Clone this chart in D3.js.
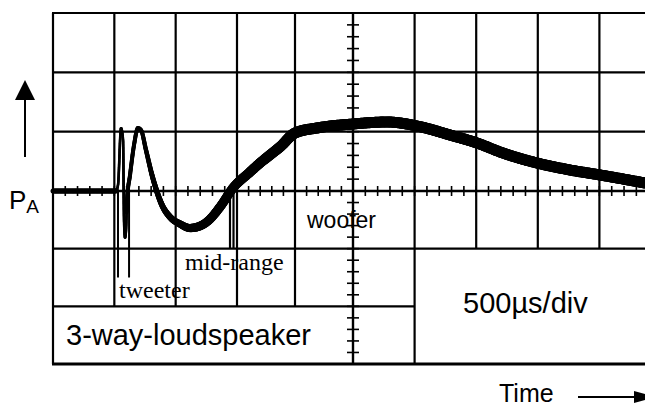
<!DOCTYPE html>
<html>
<head>
<meta charset="utf-8">
<script src="https://cdn.jsdelivr.net/npm/d3@7"></script>
<style>
  body { margin: 0; background: #fff; }
  svg { display: block; }
</style>
</head>
<body>
<svg id="scope" width="645" height="406"></svg>
<script>
// trace, in divisions (time: 0..10, amplitude: -3..3)
const timeDiv = [0, 1.027, 1.06, 1.109, 1.142, 1.158, 1.174, 1.191, 1.207, 1.256,
  1.321, 1.386, 1.435, 1.516, 1.614, 1.696, 1.777, 1.908, 2.071, 2.234,
  2.397, 2.527, 2.723, 2.935, 3.224, 3.397, 3.569, 3.741, 4.0, 4.379,
  5.0, 5.552, 6.039, 6.575, 7.013, 7.435, 7.987, 8.523, 9.01, 9.74];
const ampDiv = [0, 0, 0.101, 1.062, 0.86, -0.503, -0.815, -0.676, -0.156, 0.27,
  0.775, 1.062, 1.028, 0.691, 0.27, -0.017, -0.243, -0.451, -0.572, -0.642,
  -0.607, -0.52, -0.277, 0.051, 0.32, 0.472, 0.607, 0.742, 0.978, 1.062,
  1.129, 1.163, 1.096, 0.944, 0.809, 0.64, 0.472, 0.354, 0.27, 0.135];

// crossover markers (time in divisions)
const tweeterMarks = [1.06, 1.24];
const midRangeMarks = [2.886, 2.943];

const labels = {
  yAxis: "P",
  ySub: "A",
  xAxis: "Time",
  timebase: "500µs/div",
  title: "3-way-loudspeaker",
  tweeter: "tweeter",
  midRange: "mid-range",
  woofer: "woofer"
};

const svg = d3.select("#scope");

// scales (screen is slightly uneven, so a piecewise scale)
let x = d3.scaleLinear().domain([0, 3, 5, 10]).range([53, 237, 353, 661]);
let y = d3.scaleLinear().domain([-3, 0, 3]).range([364, 191, 13]);

const sans = "'Liberation Sans', Arial, sans-serif";
const serif = "'Liberation Serif', 'Times New Roman', serif";

// ---- graticule ----
let grid = svg.append("g").attr("stroke", "#000").attr("fill", "none");

// vertical lines: how far down each column goes
function colBottom(i) {
  if (i == 0 || i == 5 || i == 6) return -3;
  if (i <= 4) return -2;
  return -1;
}
for (let i = 0; i <= 10; i++) {
  grid.append("line")
    .attr("x1", x(i)).attr("x2", x(i))
    .attr("y1", y(3)).attr("y2", y(colBottom(i)))
    .attr("stroke-width", i == 5 ? 2.4 : 2.2);
}
// horizontal lines
for (let j = 3; j >= -3; j--) {
  let xEnd = j == -2 ? x(6) : x(10);
  grid.append("line")
    .attr("x1", x(0) - 1).attr("x2", xEnd)
    .attr("y1", y(j)).attr("y2", y(j))
    .attr("stroke-width", j == -3 ? 3.2 : (j == 0 ? 2.6 : 2.2));
}

// minor ticks on the centre axes
let minorX = d3.range(0, 10.01, 0.2);
grid.selectAll(".tx").data(minorX).join("line")
  .attr("x1", d => x(d)).attr("x2", d => x(d))
  .attr("y1", y(0) - 5).attr("y2", y(0) + 5)
  .attr("stroke-width", 1.6);
let minorY = d3.range(-3, 3.01, 0.2);
grid.selectAll(".ty").data(minorY).join("line")
  .attr("x1", x(5) - 6).attr("x2", x(5) + 6)
  .attr("y1", d => y(d)).attr("y2", d => y(d))
  .attr("stroke-width", 1.6);

// ---- crossover markers ----
let marks = svg.append("g").attr("stroke", "#000");
marks.selectAll(".tw").data(tweeterMarks).join("line")
  .attr("x1", d => x(d)).attr("x2", d => x(d))
  .attr("y1", y(0)).attr("y2", y(-1.5))
  .attr("stroke-width", 2);
marks.selectAll(".mr").data(midRangeMarks).join("line")
  .attr("x1", d => x(d)).attr("x2", d => x(d))
  .attr("y1", y(0)).attr("y2", y(-1))
  .attr("stroke-width", 2.2);

// ---- trace ----
// the beam gets fatter after the tweeter, so the smooth curve is
// walked along and stroked in short pieces of varying width
function beamWidth(t) {
  if (t < 1.03) return 5;
  if (t < 1.2) return 2.6;
  if (t < 1.45) return 4;
  if (t < 2.3) return 4 + (t - 1.45) / 0.85 * 4.5;
  if (t < 4) return 8.5 + (t - 2.3) / 1.7 * 2.5;
  return 11;
}
let pts = timeDiv.map((t, i) => [t, ampDiv[i]]);
let traceLine = d3.line()
  .x(d => x(d[0]))
  .y(d => y(d[1]))
  .curve(d3.curveMonotoneX);
let guide = svg.append("path")
  .attr("d", traceLine(pts))
  .attr("fill", "none").attr("stroke", "none");
let node = guide.node();
let total = node.getTotalLength();
let samples = d3.range(0, total, 1.2).concat([total]).map(l => node.getPointAtLength(l));
svg.append("g").selectAll("line").data(d3.pairs(samples)).join("line")
  .attr("x1", d => d[0].x).attr("y1", d => d[0].y)
  .attr("x2", d => d[1].x).attr("y2", d => d[1].y)
  .attr("stroke", "#000")
  .attr("stroke-linecap", "round")
  .attr("stroke-width", d => beamWidth(x.invert((d[0].x + d[1].x) / 2)));

// ---- text ----
function txt(s, px, py, size, fam) {
  return svg.append("text").attr("x", px).attr("y", py)
    .attr("font-family", fam).attr("font-size", size)
    .attr("fill", "#000").text(s);
}
txt(labels.title, 66, 345, 29, sans);
txt(labels.timebase, 463, 313, 29, sans);
txt(labels.woofer, 307, 228, 23, sans);
txt(labels.midRange, 185, 270, 24, serif);
txt(labels.tweeter, 119, 298, 24, serif);
txt(labels.xAxis, 499, 402, 25, sans);

let pa = svg.append("text").attr("x", 9).attr("y", 209)
  .attr("font-family", sans).attr("font-size", 26);
pa.append("tspan").text(labels.yAxis);
pa.append("tspan").attr("font-size", 19).attr("dy", 4).text(labels.ySub);

// arrows
svg.append("line").attr("x1", 25).attr("x2", 25).attr("y1", 100).attr("y2", 157)
  .attr("stroke", "#000").attr("stroke-width", 2);
svg.append("path").attr("d", "M25,80 L15,100 L35,100 Z").attr("fill", "#000");
svg.append("line").attr("x1", 578).attr("x2", 636).attr("y1", 397).attr("y2", 397)
  .attr("stroke", "#000").attr("stroke-width", 2);
svg.append("path").attr("d", "M634,391 L656,397 L634,403 Z").attr("fill", "#000");
</script>
</body>
</html>
